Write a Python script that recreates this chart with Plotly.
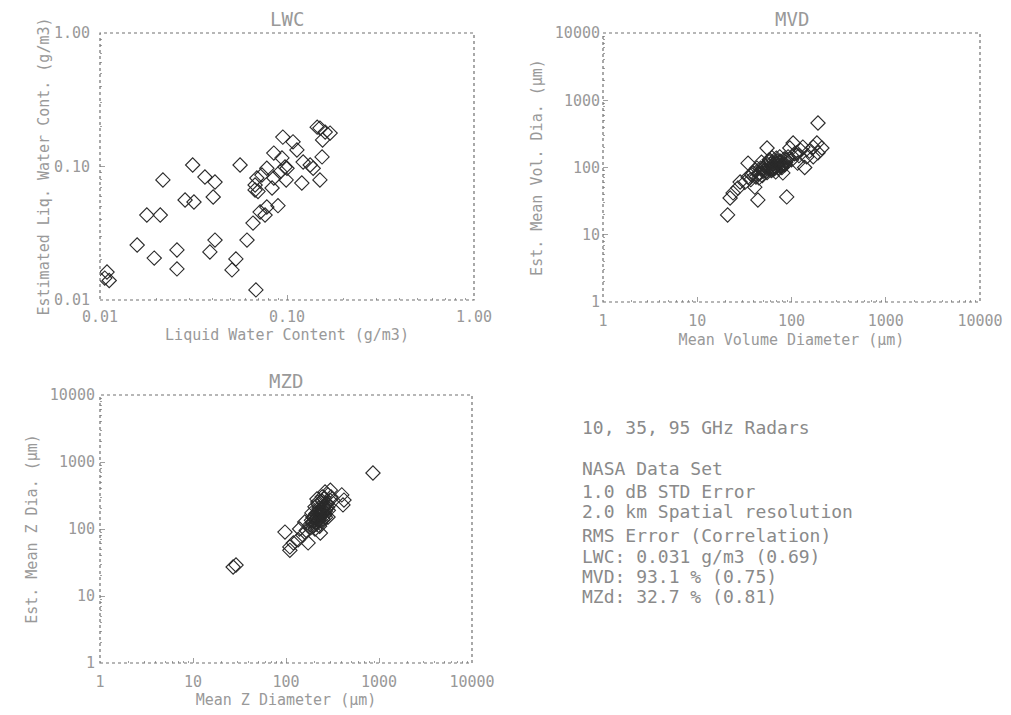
import plotly.graph_objects as go

# ---------------- data ----------------
lwc_true = [0.0109, 0.0106, 0.0112, 0.0158, 0.0195, 0.0258, 0.0258, 0.0178, 0.0210, 0.0217,
            0.0285, 0.0318, 0.0313, 0.0364, 0.0412, 0.0403, 0.0561, 0.0412, 0.0387, 0.0533,
            0.0508, 0.0682, 0.0611, 0.0658, 0.0718, 0.0763, 0.0780, 0.0895, 0.0675, 0.0675,
            0.0690, 0.0734, 0.0832, 0.0850, 0.0850, 0.0940, 0.0950, 0.1077, 0.1130, 0.0976,
            0.1000, 0.0990, 0.0918, 0.1200, 0.1220, 0.1330, 0.1380, 0.1500, 0.1540, 0.1500,
            0.1600, 0.1700, 0.1550, 0.1450, 0.0780, 0.0700]
lwc_est = [0.0162, 0.0146, 0.0140, 0.0258, 0.0206, 0.0237, 0.0171, 0.0433, 0.0433, 0.0793,
           0.0561, 0.0542, 0.1026, 0.0834, 0.0765, 0.0591, 0.1026, 0.0281, 0.0229, 0.0203,
           0.0168, 0.0119, 0.0281, 0.0377, 0.0456, 0.0433, 0.0497, 0.0509, 0.0667, 0.0727,
           0.0820, 0.0863, 0.0690, 0.0820, 0.1260, 0.1160, 0.1660, 0.1530, 0.1330, 0.0991,
           0.0970, 0.0793, 0.0910, 0.0752, 0.1080, 0.1026, 0.0970, 0.0793, 0.1180, 0.1940,
           0.1810, 0.1780, 0.1580, 0.1970, 0.0970, 0.0650]

mvd_true = [21.0, 22.3, 24.0, 27.0, 28.5, 34.6, 44.0, 40.8, 34.6, 43.0,
            50.0, 55.0, 59.0, 63.5, 70.0, 75.0, 79.0, 89.0, 81.0, 92.0,
            96.0, 104.0, 114.0, 116.0, 132.0, 138.0, 145.0, 170.0, 186.0, 191.0,
            191.0, 210.0, 170.0, 39.0, 46.0, 52.0, 56.0, 61.0, 66.0, 71.0,
            32.0, 37.0, 48.0, 54.0, 58.0, 64.0, 68.0, 74.0, 85.0, 100.0,
            120.0, 125.0, 155.0, 45.0, 62.0, 78.0, 88.0, 108.0,
            38.0, 41.0, 44.0, 47.0, 50.0, 53.0, 57.0, 60.0, 63.0, 67.0,
            72.0, 76.0, 80.0, 84.0, 87.0, 49.0, 55.0, 61.0, 66.0, 73.0,
            79.0, 86.0, 42.0, 58.0, 69.0]
mvd_est = [19.7, 35.2, 41.9, 49.5, 60.8, 72.0, 32.9, 51.0, 116.0, 98.0,
           100.0, 195.0, 129.0, 92.0, 116.0, 144.0, 100.0, 36.5, 83.0, 144.0,
           195.0, 231.0, 165.0, 116.0, 201.0, 100.0, 144.0, 201.0, 231.0, 165.0,
           459.0, 195.0, 144.0, 83.0, 83.0, 90.0, 110.0, 95.0, 105.0, 125.0,
           60.0, 66.0, 120.0, 88.0, 130.0, 112.0, 86.0, 120.0, 110.0, 130.0,
           150.0, 180.0, 175.0, 70.0, 140.0, 105.0, 128.0, 160.0,
           78.0, 92.0, 80.0, 98.0, 88.0, 104.0, 96.0, 112.0, 100.0, 118.0,
           108.0, 124.0, 114.0, 134.0, 120.0, 76.0, 84.0, 90.0, 96.0, 100.0,
           106.0, 112.0, 72.0, 122.0, 138.0]

mzd_true = [27.0, 29.0, 861.0, 97.5, 110.0, 120.0, 135.0, 152.0, 173.0, 159.0,
            190.0, 205.0, 220.0, 245.0, 263.0, 283.0, 234.0, 283.0, 398.0, 410.0,
            420.0, 230.0, 215.0, 200.0, 240.0, 225.0, 255.0, 265.0, 210.0, 250.0,
            235.0, 195.0, 270.0, 180.0, 245.0, 225.0, 205.0, 260.0, 240.0, 230.0,
            110.0, 140.0, 165.0, 285.0, 300.0, 215.0,
            185.0, 192.0, 198.0, 204.0, 211.0, 218.0, 224.0, 231.0, 238.0, 246.0,
            253.0, 261.0, 270.0, 278.0, 288.0, 296.0, 305.0, 200.0, 212.0, 226.0,
            240.0, 252.0, 266.0, 280.0, 188.0, 222.0, 258.0]
mzd_est = [27.1, 29.0, 685.0, 90.0, 54.0, 62.0, 69.0, 81.0, 62.0, 127.0,
           174.0, 214.0, 252.0, 301.0, 357.0, 323.0, 87.0, 151.0, 323.0, 229.0,
           270.0, 160.0, 145.0, 130.0, 175.0, 190.0, 210.0, 185.0, 170.0, 140.0,
           120.0, 150.0, 240.0, 115.0, 260.0, 135.0, 100.0, 160.0, 200.0, 110.0,
           48.0, 100.0, 95.0, 190.0, 380.0, 280.0,
           105.0, 125.0, 112.0, 140.0, 128.0, 158.0, 142.0, 176.0, 160.0, 195.0,
           178.0, 215.0, 198.0, 240.0, 225.0, 270.0, 300.0, 150.0, 118.0, 205.0,
           132.0, 168.0, 150.0, 210.0, 135.0, 235.0, 290.0]

lwc_ticks = [0.01, 0.1, 1.0]
lwc_ticktext = ["0.01", "0.10", "1.00"]
dia_ticks = [1, 10, 100, 1000, 10000]
dia_ticktext = ["1", "10", "100", "1000", "10000"]

info_lines = [
    ("10, 35, 95 GHz Radars", 427),
    ("NASA Data Set", 468),
    ("1.0 dB STD Error", 491),
    ("2.0 km Spatial resolution", 511),
    ("RMS Error (Correlation)", 535),
    ("LWC: 0.031 g/m3 (0.69)", 556),
    ("MVD: 93.1 % (0.75)", 576),
    ("MZd: 32.7 % (0.81)", 596),
]

# ---------------- figure ----------------
W, H = 1011, 715
TXT = "#999999"
AX = "#a0a0a0"
FONT = "DejaVu Sans Mono"

def py(y):
    return 1 - y / H

def px(x):
    return x / W

fig = go.Figure()
mk = dict(symbol="diamond-open", size=11, color="#2a2a2a", line=dict(width=1.1, color="#2a2a2a"))
fig.add_trace(go.Scatter(x=lwc_true, y=lwc_est, mode="markers", marker=mk, xaxis="x", yaxis="y", showlegend=False))
fig.add_trace(go.Scatter(x=mvd_true, y=mvd_est, mode="markers", marker=mk, xaxis="x2", yaxis="y2", showlegend=False))
fig.add_trace(go.Scatter(x=mzd_true, y=mzd_est, mode="markers", marker=mk, xaxis="x3", yaxis="y3", showlegend=False))

def minor_vals(lo, hi):
    vals = []
    d = lo
    while d < hi:
        for m in range(2, 10):
            vals.append(d * m)
        d *= 10
    return vals

def axis(domain, rng, tv, tt, title, anchor, standoff, lstand):
    return dict(
        type="log", domain=domain, range=rng, anchor=anchor, automargin=False,
        tickvals=tv, ticktext=tt, ticks="inside", ticklen=5, tickcolor=AX,
        showgrid=False, zeroline=False, showline=False, mirror=False,
        ticklabelstandoff=lstand,
        tickfont=dict(family=FONT, size=15, color=TXT),
        title=dict(text=title, font=dict(family=FONT, size=15, color=TXT), standoff=standoff),
        minor=dict(tickvals=minor_vals(tv[0], tv[-1]), ticks="inside", ticklen=2, tickcolor=AX, showgrid=False),
    )

x1d = [px(100), px(474)]; y1d = [py(300), py(33)]
x2d = [px(603), px(980)]; y2d = [py(302), py(33)]
x3d = [px(100), px(472)]; y3d = [py(663), py(395)]

fig.update_layout(
    width=W, height=H, margin=dict(l=0, r=0, t=0, b=0),
    paper_bgcolor="white", plot_bgcolor="white",
    xaxis=axis(x1d, [-2, 0], lwc_ticks, lwc_ticktext, "Liquid Water Content (g/m3)", "y", 2, 6),
    yaxis=axis(y1d, [-2, 0], lwc_ticks, lwc_ticktext, "Estimated Liq. Water Cont. (g/m3)", "x", 0, 9),
    xaxis2=axis(x2d, [0, 4], dia_ticks, dia_ticktext, "Mean Volume Diameter (μm)", "y2", 5, 8),
    yaxis2=axis(y2d, [0, 4], dia_ticks, dia_ticktext, "Est. Mean Vol. Dia. (μm)", "x2", 8, 2),
    xaxis3=axis(x3d, [0, 4], dia_ticks, dia_ticktext, "Mean Z Diameter (μm)", "y3", 4, 8),
    yaxis3=axis(y3d, [0, 4], dia_ticks, dia_ticktext, "Est. Mean Z Dia. (μm)", "x3", 8, 4),
)

# dotted frames
for xr, yr in [("x", "y"), ("x2", "y2"), ("x3", "y3")]:
    fig.add_shape(type="rect", xref=f"{xr} domain", yref=f"{yr} domain", x0=0, x1=1, y0=0, y1=1,
                  line=dict(color="#707070", width=1.2, dash="dot"), layer="above")

titles = [("LWC", (x1d[0] + x1d[1]) / 2, py(19)),
          ("MVD", (x2d[0] + x2d[1]) / 2, py(19)),
          ("MZD", (x3d[0] + x3d[1]) / 2, py(381))]
for t, x, y in titles:
    fig.add_annotation(text=t, x=x, y=y, xref="paper", yref="paper", showarrow=False,
                       font=dict(family=FONT, size=19, color=TXT), xanchor="center", yanchor="middle")

for t, y in info_lines:
    fig.add_annotation(text=t, x=px(580), y=py(y), xref="paper", yref="paper", showarrow=False,
                       font=dict(family=FONT, size=18, color="#8a8a8a"), xanchor="left", yanchor="middle")

fig.write_html("out.html")
